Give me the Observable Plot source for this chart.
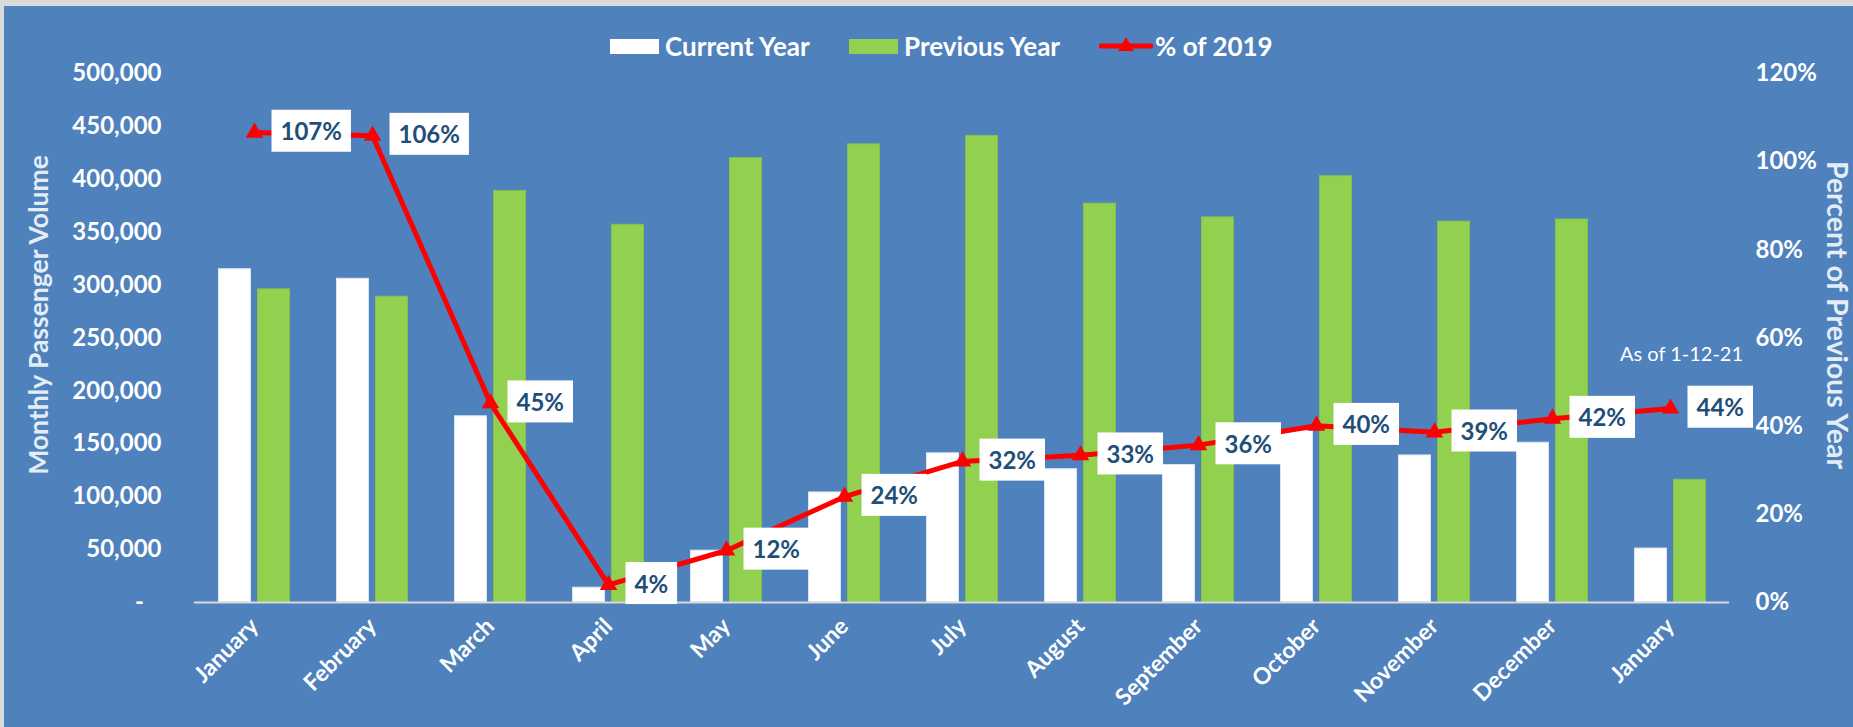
<!DOCTYPE html>
<html>
<head>
<meta charset="utf-8">
<script src="https://cdn.jsdelivr.net/npm/d3@7"></script>
<script src="https://cdn.jsdelivr.net/npm/@observablehq/plot@0.6"></script>
<style>
  html, body { margin: 0; padding: 0; width: 1853px; height: 727px; overflow: hidden; background: #d9d9d9; }
  #card { position: absolute; left: 4px; top: 6px; width: 1849px; height: 721px; background: #4f81bd; font-family: Lato, "Open Sans", sans-serif; }
  #legend { position: relative; height: 56px; }
  .item { position: absolute; top: 28px; height: 24px; display: flex; align-items: center; gap: 6px; color: #fff; font-weight: 700; font-size: 26px; white-space: nowrap; }
  .sw { display: inline-block; width: 49px; height: 15px; }
  #chart svg { display: block; overflow: visible; }
</style>
</head>
<body>
<div id="card">
  <div id="legend"></div>
  <div id="chart"></div>
</div>
<script>
// ---- data ----
const months = ["January","February","March","April","May","June","July","August","September","October","November","December","January"];
const currentYear  = [315000, 306000, 176000, 14000, 49000, 104000, 141000, 126000, 130000, 162000, 139000, 151000, 51000];
const previousYear = [296000, 289000, 389000, 357000, 420000, 433000, 441000, 377000, 364000, 403000, 360000, 362000, 116000];
const pctOf2019    = [1.066, 1.059, 0.452, 0.040, 0.118, 0.240, 0.320, 0.334, 0.357, 0.401, 0.386, 0.417, 0.440];
const leftTicks  = [0, 50000, 100000, 150000, 200000, 250000, 300000, 350000, 400000, 450000, 500000];
const rightTicks = [0, 0.2, 0.4, 0.6, 0.8, 1.0, 1.2];
const legendLabels = ["Current Year", "Previous Year", "% of 2019"];
const leftTitle = "Monthly Passenger Volume";
const rightTitle = "Percent of Previous Year";
const asOfNote = "As of 1-12-21";
const asOfPosition = {index: 12, volume: 234000};

const colors = {current: "#ffffff", previous: "#92d050", pct: "#ff0000", label: "#1f4e79"};
const yMax = 500000, pMax = 1.2;
const toY = p => p * yMax / pMax;

const rows = months.map((m, i) => ({i, month: m, cur: currentYear[i], prev: previousYear[i], pct: pctOf2019[i]}));

// ---- legend ----
const legend = document.getElementById("legend");
const legendLefts = [606, 845, 1095];
legendLabels.forEach((lab, k) => {
  const item = document.createElement("div");
  item.className = "item";
  item.style.left = legendLefts[k] + "px";
  if (k < 2) {
    const sw = document.createElement("span");
    sw.className = "sw";
    sw.style.background = k === 0 ? colors.current : colors.previous;
    item.appendChild(sw);
  } else {
    const ns = "http://www.w3.org/2000/svg";
    const s = document.createElementNS(ns, "svg");
    s.setAttribute("width", 54); s.setAttribute("height", 24);
    const ln = document.createElementNS(ns, "line");
    ln.setAttribute("x1", 2); ln.setAttribute("x2", 52); ln.setAttribute("y1", 12); ln.setAttribute("y2", 12);
    ln.setAttribute("stroke", colors.pct); ln.setAttribute("stroke-width", 5); ln.setAttribute("stroke-linecap", "round");
    const tri = document.createElementNS(ns, "path");
    tri.setAttribute("d", "M27,3 L35,17 L19,17 Z");
    tri.setAttribute("fill", colors.pct);
    s.appendChild(ln); s.appendChild(tri);
    item.appendChild(s);
    item.style.gap = "2px";
  }
  const t = document.createElement("span");
  t.textContent = lab;
  item.appendChild(t);
  legend.appendChild(item);
});

// ---- chart ----
const chart = Plot.plot({
  width: 1849,
  height: 665,
  marginTop: 11,
  marginBottom: 125,
  marginLeft: 190,
  marginRight: 124,
  style: {background: "transparent", color: "white", fontFamily: "Lato, 'Open Sans', sans-serif", fontWeight: 700, fontSize: "24px", overflow: "visible"},
  x: {type: "band", domain: d3.range(months.length), padding: 0},
  y: {domain: [0, yMax]},
  marks: [
    Plot.axisY(leftTicks, {anchor: "left", tickSize: 0, tickPadding: 33, fontSize: 24, label: null,
      tickFormat: d => d === 0 ? "-\u00a0\u00a0\u00a0" : d3.format(",")(d)}),
    Plot.axisY(rightTicks.map(toY), {anchor: "right", tickSize: 0, tickPadding: 26, fontSize: 24, label: null,
      tickFormat: d => Math.round(d / yMax * pMax * 100) + "%"}),
    Plot.axisX({tickRotate: -45, tickSize: 0, tickPadding: 20, fontSize: 23, label: null,
      tickFormat: i => months[i]}),
    Plot.barY(rows, {x: "i", y: "cur", fill: colors.current, stroke: "#dbe5f1", strokeWidth: 1, insetLeft: 23.5, insetRight: 62.5}),
    Plot.barY(rows, {x: "i", y: "prev", fill: colors.previous, stroke: "#86c04a", strokeWidth: 1, insetLeft: 62.5, insetRight: 23.5}),
    Plot.ruleY([0], {stroke: "#d9d9d9", strokeWidth: 2}),
    Plot.line(rows, {x: "i", y: d => toY(d.pct), stroke: colors.pct, strokeWidth: 5}),
    Plot.dot(rows, {x: "i", y: d => toY(d.pct), symbol: "triangle", r: 6.5, fill: colors.pct}),
    Plot.text(rows, {x: "i", y: d => toY(d.pct), text: d => Math.round(d.pct * 100) + "%",
      textAnchor: "start", dx: 26, fill: colors.label, fontSize: 24, fontWeight: 700}),
    Plot.text([asOfNote], {x: () => asOfPosition.index, y: () => asOfPosition.volume, text: d => d,
      fontWeight: 400, fontSize: 20, dx: 11, fill: "white"}),
    Plot.text([leftTitle], {frameAnchor: "left", textAnchor: "middle", text: d => d, rotate: -90, dx: -155, dy: -23, fontSize: 26.5, fill: "#e4ecf6"}),
    Plot.text([rightTitle], {frameAnchor: "right", textAnchor: "middle", text: d => d, rotate: 90, dx: 107, dy: -23, fontSize: 28.5, fill: "#e4ecf6"})
  ]
});
document.getElementById("chart").appendChild(chart);

// white boxes behind the percentage labels
const svg = document.querySelector("#chart svg");
svg.querySelectorAll("g[aria-label='text']").forEach(g => {
  if (g.getAttribute("fill") !== colors.label) return;
  g.querySelectorAll("text").forEach(t => {
    const bb = t.getBBox();
    const r = document.createElementNS("http://www.w3.org/2000/svg", "rect");
    const cy = bb.y + bb.height / 2;
    r.setAttribute("x", bb.x - 9);
    r.setAttribute("width", bb.width + 18);
    r.setAttribute("y", cy - 21);
    r.setAttribute("height", 42);
    r.setAttribute("fill", "white");
    const tr = t.getAttribute("transform");
    if (tr) r.setAttribute("transform", tr);
    t.parentNode.insertBefore(r, t);
  });
});
</script>
</body>
</html>
